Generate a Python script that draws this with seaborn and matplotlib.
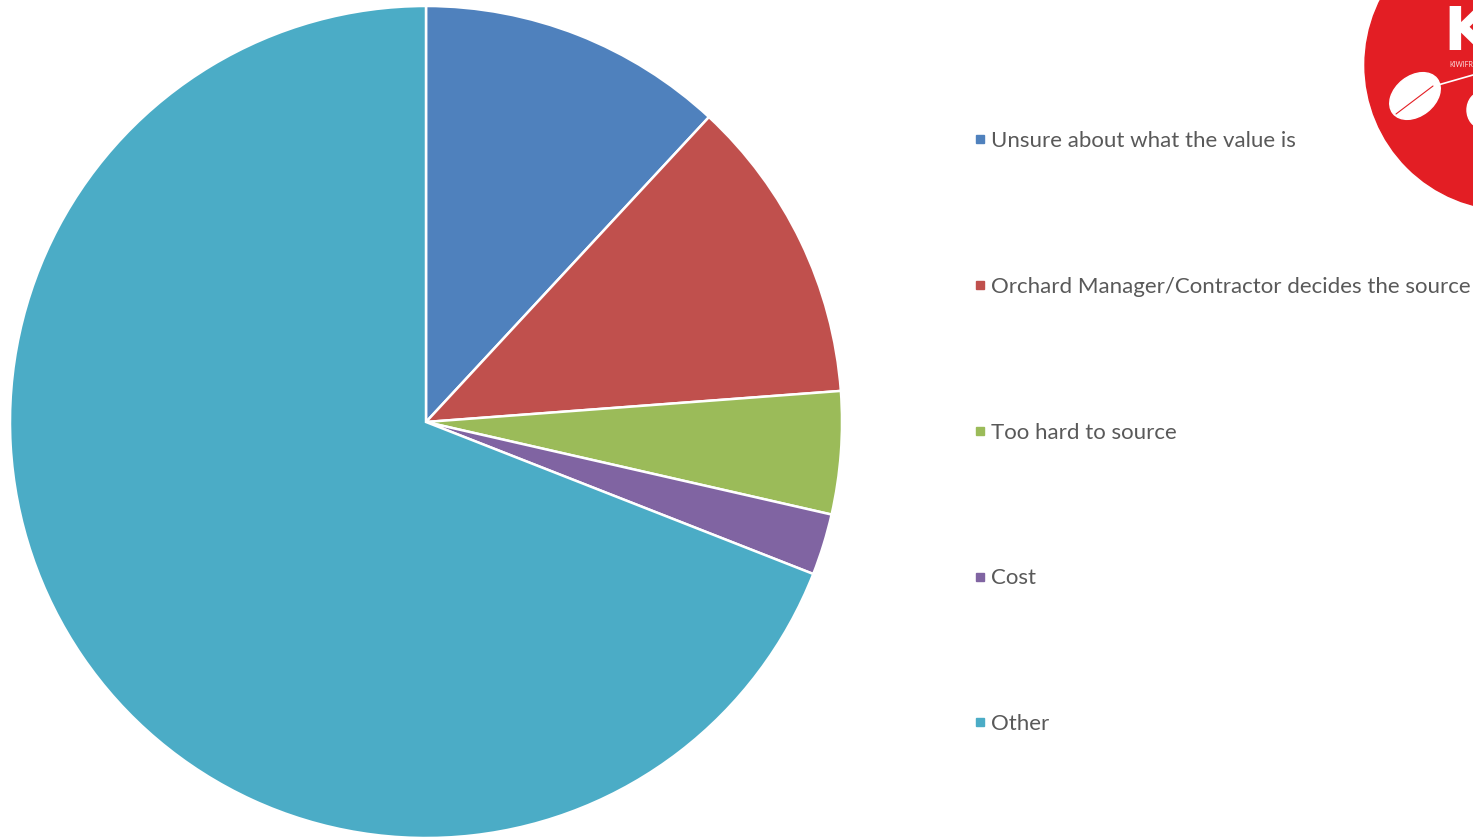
import matplotlib
matplotlib.use("Agg")
import matplotlib.pyplot as plt
from matplotlib.lines import Line2D
from matplotlib.patches import Circle, Ellipse
import seaborn as sns

# --- data (counts, clockwise from 12 o'clock) ---
labels = [
    "Unsure about what the value is",
    "Orchard Manager/Contractor decides the source",
    "Too hard to source",
    "Cost",
    "Other",
]
counts = [5, 5, 2, 1, 29]
colors = ["#4F81BD", "#C0504D", "#9BBB59", "#8064A2", "#4BACC6"]

sns.set_theme(style="white")
plt.rcParams["font.family"] = ["Lato", "DejaVu Sans"]

W, H = 1473, 840
fig = plt.figure(figsize=(W / 100, H / 100), dpi=100)

# pie centred at (426, 422) px, radius 416 px
cx, cy, r = 426, 422, 416
ax = fig.add_axes([(cx - r) / W, (H - cy - r) / H, 2 * r / W, 2 * r / H])
wedges, _ = ax.pie(
    counts,
    colors=sns.color_palette(colors),
    startangle=90,
    counterclock=False,
    wedgeprops=dict(edgecolor="white", linewidth=1.8),
)
ax.set_xlim(-1, 1)
ax.set_ylim(-1, 1)
ax.set_aspect("equal")
ax.axis("off")

# legend on the right
handles = [
    Line2D([], [], marker="s", linestyle="none", markersize=6,
           markerfacecolor=c, markeredgecolor=c)
    for c in colors
]
leg = fig.legend(
    handles, labels,
    loc="upper left",
    bbox_to_anchor=(964 / W, 1 - 120 / H),
    frameon=False,
    fontsize=16,
    labelcolor="#595959",
    handlelength=0.45,
    handletextpad=0.28,
    labelspacing=5.66,
    borderpad=0,
)

# logo in the corner (cropped red badge)
logo = fig.add_axes([0, 0, 1, 1], zorder=-1)
logo.set_xlim(0, W)
logo.set_ylim(H, 0)
logo.axis("off")
logo.add_patch(Circle((1510, 65), 145, color="#E31E24"))
logo.text(1443, 50, "K", color="white", fontsize=44, fontweight="bold",
          ha="left", va="baseline", family="DejaVu Sans")
logo.text(1449, 67, "KIWIFRUIT", color="white", fontsize=5, alpha=0.85,
          ha="left", va="baseline")
logo.add_patch(Ellipse((1415, 96), 56, 40, angle=-38, color="white"))
logo.plot([1396, 1433], [114, 86], color="#E31E24", lw=0.8)
logo.plot([1438, 1473], [85, 75], color="white", lw=1.2)
logo.add_patch(Ellipse((1482, 110), 30, 36, color="white"))

fig.savefig("out.png", dpi=100)
